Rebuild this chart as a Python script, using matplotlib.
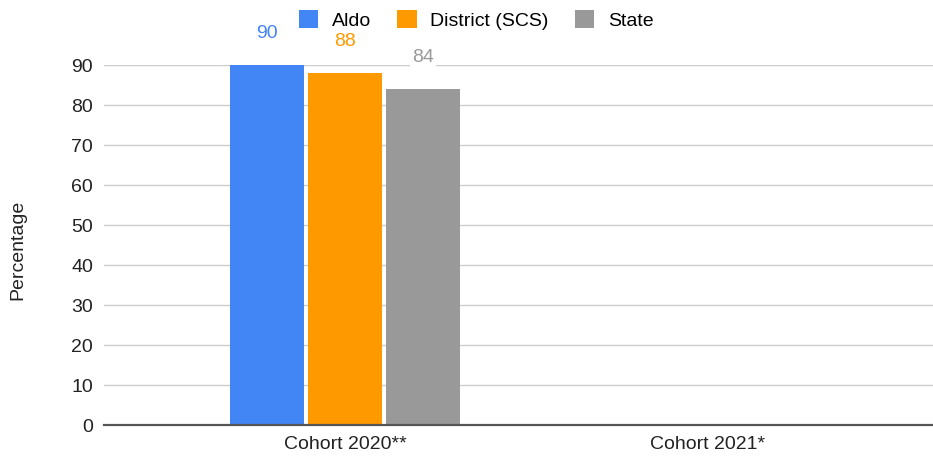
import numpy as np
import matplotlib.pyplot as plt

plt.rcParams['font.family'] = ['Liberation Sans', 'DejaVu Sans']

# chart data
cohorts = ['Cohort 2020**', 'Cohort 2021*']
series = ['Aldo', 'District (SCS)', 'State']
aldo = [90, np.nan]
district = [88, np.nan]
state = [84, np.nan]
colors = ['#4285F4', '#FF9900', '#999999']

FS = 14

fig = plt.figure(figsize=(9.33, 4.57), dpi=100)
ax = fig.add_axes([104 / 933, 32 / 457, 829 / 933, 360 / 457])

x = np.arange(len(cohorts))
width = 0.205
step = 0.215
for i, (vals, name, c) in enumerate(zip([aldo, district, state], series, colors)):
    pos = x + (i - 1) * step
    ax.bar(pos, vals, width=width, color=c, label=name, zorder=3)
    for p, v in zip(pos, vals):
        if np.isnan(v):
            continue
        ax.annotate(f'{v:g}', (p, v), xytext=(0, 23), textcoords='offset points',
                    ha='center', va='center', color=c, fontsize=FS, zorder=4,
                    annotation_clip=False,
                    bbox=dict(boxstyle='square,pad=0.1', fc='white', ec='none'))

ax.set_xlim(-0.666, 1.624)
ax.set_ylim(0, 90)
ax.set_yticks(range(0, 91, 10))
ax.set_xticks(x)
ax.set_xticklabels(cohorts)
ax.tick_params(axis='both', length=0, labelsize=FS, colors='#222222')
ax.tick_params(axis='y', pad=8)
ax.tick_params(axis='x', pad=8)
ax.grid(axis='y', color='#cccccc', linewidth=1, zorder=0)
for s in ['top', 'right', 'left']:
    ax.spines[s].set_visible(False)
ax.spines['bottom'].set_color('#555555')
ax.spines['bottom'].set_linewidth(1.6)
ax.spines['bottom'].set_zorder(5)

fig.text(18 / 933, 1 - 250 / 457, 'Percentage', rotation=90, ha='center', va='center',
         fontsize=FS, color='#222222')

fig.legend(loc='center', bbox_to_anchor=(476 / 933, 1 - 20 / 457), ncol=3, frameon=False,
           fontsize=FS, handlelength=1.0, handleheight=1.0, columnspacing=1.35,
           handletextpad=0.7)

fig.savefig('out.png', dpi=100)
